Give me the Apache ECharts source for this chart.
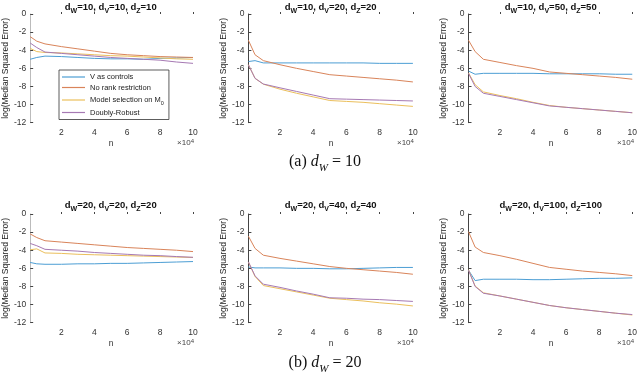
<!DOCTYPE html>
<html>
<head>
<meta charset="utf-8">
<script src="https://cdn.jsdelivr.net/npm/echarts@6/dist/echarts.min.js"></script>
<style>
  html, body { margin: 0; padding: 0; background: #fff; }
  #chart { width: 640px; height: 374px; }
</style>
</head>
<body>
<div id="chart"></div>
<script>
// sample sizes on the x axis
const nValues = [1000, 5000, 10000, 20000, 30000, 40000, 50000, 60000, 70000, 80000, 90000, 100000];
const xTicks = [20000, 40000, 60000, 80000, 100000];
const seriesNames = ['V as controls', 'No rank restriction', 'Model selection on M0', 'Doubly-Robust'];

// panel titles: [d_W, d_V, d_Z]
const panelDims = [[10, 10, 10], [10, 20, 20], [10, 50, 50], [20, 20, 20], [20, 40, 40], [20, 100, 100]];

// panel 1 : dW=10, dV=10, dZ=10
const vControls1 = [-5.0, -4.8, -4.65, -4.7, -4.8, -4.9, -4.95, -4.95, -5.0, -4.9, -4.85, -4.8];
const noRank1 = [-2.5, -3.0, -3.3, -3.6, -3.85, -4.1, -4.35, -4.5, -4.6, -4.7, -4.75, -4.8];
const modelSel1 = [-3.8, -4.15, -4.25, -4.3, -4.4, -4.5, -4.6, -4.65, -4.75, -4.85, -4.95, -5.0];
const doublyRobust1 = [-3.2, -3.7, -4.2, -4.35, -4.5, -4.65, -4.8, -4.9, -5.0, -5.1, -5.3, -5.45];

// panel 2 : dW=10, dV=20, dZ=20
const vControls2 = [-5.25, -5.15, -5.4, -5.4, -5.4, -5.4, -5.4, -5.4, -5.4, -5.45, -5.45, -5.45];
const noRank2 = [-2.9, -4.5, -5.15, -5.6, -6.0, -6.35, -6.7, -6.85, -7.0, -7.15, -7.3, -7.5];
const modelSel2 = [-5.6, -7.1, -7.75, -8.3, -8.75, -9.15, -9.55, -9.65, -9.75, -9.9, -10.05, -10.2];
const doublyRobust2 = [-5.6, -7.1, -7.73, -8.15, -8.55, -8.95, -9.35, -9.4, -9.45, -9.5, -9.55, -9.6];

// panel 3 : dW=10, dV=50, dZ=50
const vControls3 = [-6.3, -6.65, -6.55, -6.55, -6.55, -6.55, -6.6, -6.6, -6.6, -6.6, -6.65, -6.65];
const noRank3 = [-2.9, -4.15, -5.0, -5.35, -5.7, -6.0, -6.4, -6.55, -6.7, -6.85, -7.0, -7.2];
const modelSel3 = [-6.5, -7.8, -8.6, -9.0, -9.35, -9.75, -10.1, -10.3, -10.45, -10.6, -10.75, -10.9];
const doublyRobust3 = [-6.55, -8.0, -8.75, -9.1, -9.45, -9.8, -10.15, -10.3, -10.45, -10.6, -10.75, -10.9];

// panel 4 : dW=20, dV=20, dZ=20
const vControls4 = [-5.35, -5.5, -5.55, -5.55, -5.5, -5.5, -5.45, -5.45, -5.4, -5.35, -5.3, -5.25];
const noRank4 = [-2.2, -2.6, -2.95, -3.1, -3.25, -3.4, -3.55, -3.7, -3.8, -3.9, -4.0, -4.15];
const modelSel4 = [-3.95, -3.85, -4.3, -4.35, -4.45, -4.5, -4.55, -4.6, -4.65, -4.7, -4.75, -4.8];
const doublyRobust4 = [-3.25, -3.5, -3.9, -4.0, -4.1, -4.25, -4.35, -4.45, -4.55, -4.6, -4.7, -4.78];

// panel 5 : dW=20, dV=40, dZ=40
const vControls5 = [-5.85, -5.95, -5.95, -5.95, -6.0, -6.0, -6.05, -6.05, -6.0, -5.95, -5.9, -5.9];
const noRank5 = [-2.45, -3.8, -4.55, -4.9, -5.2, -5.5, -5.8, -6.0, -6.15, -6.3, -6.45, -6.65];
const modelSel5 = [-5.3, -6.9, -7.9, -8.25, -8.6, -8.95, -9.3, -9.45, -9.6, -9.8, -9.95, -10.15];
const doublyRobust5 = [-5.28, -6.83, -7.75, -8.1, -8.5, -8.85, -9.25, -9.3, -9.4, -9.45, -9.55, -9.65];

// panel 6 : dW=20, dV=100, dZ=100
const vControls6 = [-6.2, -7.35, -7.2, -7.2, -7.2, -7.25, -7.25, -7.2, -7.15, -7.1, -7.1, -7.05];
const noRank6 = [-1.95, -3.65, -4.25, -4.6, -5.0, -5.45, -5.9, -6.1, -6.3, -6.45, -6.6, -6.8];
const modelSel6 = [-6.15, -7.95, -8.7, -9.05, -9.4, -9.75, -10.1, -10.35, -10.55, -10.75, -10.95, -11.15];
const doublyRobust6 = [-6.2, -8.0, -8.75, -9.05, -9.4, -9.75, -10.1, -10.35, -10.55, -10.75, -10.95, -11.1];

const panels = [
  [vControls1, noRank1, modelSel1, doublyRobust1],
  [vControls2, noRank2, modelSel2, doublyRobust2],
  [vControls3, noRank3, modelSel3, doublyRobust3],
  [vControls4, noRank4, modelSel4, doublyRobust4],
  [vControls5, noRank5, modelSel5, doublyRobust5],
  [vControls6, noRank6, modelSel6, doublyRobust6],
];

const colors = ['#4c9ed4', '#d9845a', '#ebbf5c', '#a679b3'];
const fontSans = 'Liberation Sans';
const fontSerif = 'Liberation Serif';

// layout
const colLeft = [28.5, 248.4, 468.5];
const rowTop = [14, 214];
const gw = 164.5;
const gh = 108.7;

const grids = [], xAxes = [], yAxes = [], series = [], graphics = [];

panels.forEach((lines, p) => {
  const col = p % 3, row = Math.floor(p / 3);
  const left = colLeft[col], top = rowTop[row];
  const faint = col === 0;
  grids.push({ left: left, top: top, width: gw, height: gh });
  xAxes.push({
    type: 'value', gridIndex: p, min: 1000, max: 100000,
    splitLine: { show: false },
    axisLine: { show: false },
    axisTick: { inside: true, length: 2, customValues: xTicks, lineStyle: { color: '#444', width: 1 } },
    axisLabel: {
      customValues: xTicks, fontFamily: fontSans, fontSize: 8.5, color: '#333', margin: 5,
      formatter: v => String(v / 10000),
    },
  });
  yAxes.push({
    type: 'value', gridIndex: p, min: -12, max: 0, interval: 2,
    splitLine: { show: false },
    axisLine: { show: true, lineStyle: { color: faint ? '#bbb' : '#444', width: 1 } },
    axisTick: { inside: true, length: 3, lineStyle: { color: '#444' } },
    axisLabel: { fontFamily: fontSans, fontSize: 8.5, color: '#333', margin: 4 },
    name: 'log(Median Squared Error)', nameLocation: 'middle', nameGap: 19,
    nameTextStyle: { fontFamily: fontSans, fontSize: 8.5, color: '#222' },
  });
  lines.forEach((vals, k) => {
    series.push({
      name: seriesNames[k], type: 'line', xAxisIndex: p, yAxisIndex: p,
      data: nValues.map((n, i) => [n, vals[i]]),
      symbol: 'none', showSymbol: false, silent: true, animation: false,
      lineStyle: { color: colors[k], width: 1 },
      itemStyle: { color: colors[k] },
      z: k === 0 ? 2 : 3,
    });
  });
  const d = panelDims[p];
  graphics.push({
    type: 'text', x: left + gw / 2, y: row === 0 ? 0 : 198,
    style: {
      text: `d{s|W}=${d[0]}, d{s|V}=${d[1]}, d{s|Z}=${d[2]}`,
      align: 'center', verticalAlign: 'top',
      fontFamily: fontSans, fontSize: 9.5, fontWeight: 'bold', fill: '#111', lineHeight: 11,
      rich: { s: { fontFamily: fontSans, fontSize: 7, fontWeight: 'bold', fill: '#111', verticalAlign: 'bottom', lineHeight: 15 } },
    },
  });
  graphics.push({
    type: 'text', x: left + gw / 2 - 2, y: top + gh + 16,
    style: { text: 'n', fontFamily: fontSans, fontSize: 8.5, fill: '#333' },
  });
  graphics.push({
    type: 'text', x: left + gw + 1, y: top + gh + 16,
    style: {
      text: '×10{e|4}', align: 'right', fontFamily: fontSans, fontSize: 8, fill: '#444',
      rich: { e: { fontSize: 6, fill: '#444', verticalAlign: 'top', lineHeight: 8 } },
    },
  });
});

// captions
['(a) {i|d}{s|W} = 10', '(b) {i|d}{s|W} = 20'].forEach((txt, r) => {
  graphics.push({
    type: 'text', x: 325, y: r === 0 ? 162 : 363,
    style: {
      text: txt, align: 'center', verticalAlign: 'middle',
      fontFamily: fontSerif, fontSize: 16, fill: '#111',
      rich: {
        i: { fontFamily: fontSerif, fontStyle: 'italic', fontSize: 16, fill: '#111' },
        s: { fontFamily: fontSerif, fontStyle: 'italic', fontSize: 11, fill: '#111', verticalAlign: 'bottom', lineHeight: 24 },
      },
    },
  });
});

const chart = echarts.init(document.getElementById('chart'), null, { renderer: 'canvas' });
chart.setOption({
  backgroundColor: '#fff',
  animation: false,
  grid: grids,
  xAxis: xAxes,
  yAxis: yAxes,
  series: series,
  graphic: graphics,
  legend: {
    data: seriesNames.map(n => ({ name: n, icon: 'rect' })),
    orient: 'vertical', left: 59, top: 70,
    padding: [3, 5, 3, 3], itemGap: 2.5,
    itemWidth: 23, itemHeight: 1.2,
    backgroundColor: '#fff', borderColor: '#333', borderWidth: 0.8,
    selectedMode: false,
    textStyle: {
      fontFamily: fontSans, fontSize: 7.5, color: '#222', lineHeight: 8,
      rich: { s: { fontFamily: fontSans, fontSize: 5.5, color: '#222', verticalAlign: 'bottom', lineHeight: 12 } },
    },
    formatter: name => name === 'Model selection on M0' ? 'Model selection on M{s|0}' : name,
  },
});
</script>
</body>
</html>
